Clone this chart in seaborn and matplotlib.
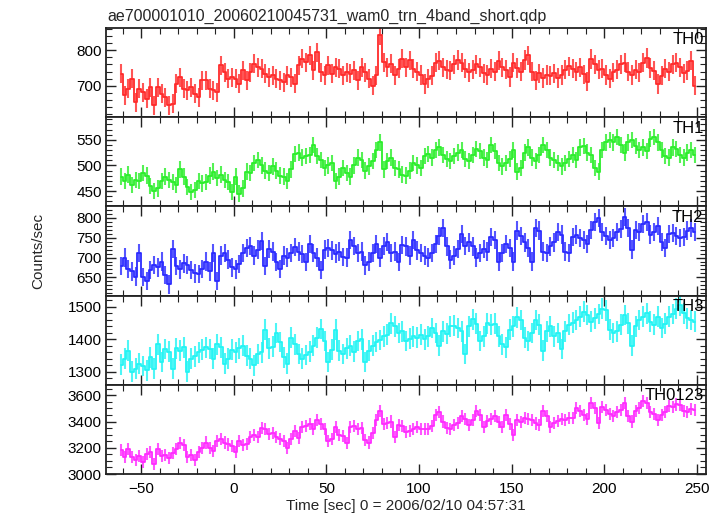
import numpy as np
import pandas as pd
import matplotlib
matplotlib.use("Agg")
import matplotlib.pyplot as plt
from matplotlib.ticker import MultipleLocator
import seaborn as sns

# ---------------- data (2 s bins) ----------------
TIME_START = -61
BIN_WIDTH = 2
N_BINS = 156
time = TIME_START + BIN_WIDTH * np.arange(N_BINS)

th0 = [734, 673, 692, 720, 654, 692, 682, 664, 696, 645, 696, 678, 668, 645, 650, 706,
       724, 692, 687, 696, 678, 668, 715, 715, 692, 687, 682, 757, 738, 720, 724, 720,
       706, 743, 715, 738, 762, 752, 748, 734, 724, 729, 720, 715, 710, 729, 724, 706,
       757, 776, 766, 785, 743, 794, 738, 729, 757, 734, 752, 748, 729, 738, 734, 743,
       715, 752, 738, 720, 700, 729, 841, 766, 752, 762, 729, 748, 776, 752, 771, 748,
       740, 730, 705, 720, 728, 765, 770, 752, 745, 742, 760, 772, 765, 748, 738, 745,
       760, 752, 735, 730, 748, 740, 770, 752, 745, 725, 765, 750, 740, 772, 785, 740,
       715, 735, 722, 730, 728, 735, 722, 730, 745, 755, 748, 740, 752, 732, 712, 775,
       760, 745, 748, 730, 720, 738, 745, 760, 765, 740, 730, 745, 738, 765, 778, 750,
       742, 705, 728, 748, 740, 760, 765, 752, 735, 742, 770, 700]

th1 = [478, 470, 482, 462, 472, 470, 485, 480, 460, 450, 455, 470, 478, 472, 468, 462,
       492, 478, 458, 448, 452, 470, 465, 468, 480, 488, 475, 482, 472, 468, 448, 478,
       445, 455, 488, 485, 505, 510, 500, 490, 485, 498, 490, 480, 478, 470, 492, 522,
       525, 515, 518, 520, 540, 518, 510, 495, 500, 505, 470, 478, 495, 485, 478, 500,
       515, 510, 490, 498, 508, 530, 545, 492, 508, 515, 495, 492, 482, 480, 490, 505,
       500, 495, 518, 522, 515, 530, 535, 520, 512, 508, 518, 525, 530, 512, 508, 520,
       532, 528, 515, 510, 540, 528, 505, 498, 505, 512, 530, 488, 495, 525, 535, 515,
       508, 520, 540, 530, 515, 510, 505, 498, 505, 512, 520, 510, 535, 538, 525, 520,
       495, 488, 530, 545, 550, 545, 555, 540, 525, 545, 550, 538, 530, 535, 528, 552,
       555, 545, 530, 518, 515, 535, 532, 520, 515, 525, 530, 520]

th2 = [678, 700, 672, 665, 652, 712, 650, 640, 668, 682, 675, 690, 655, 632, 722, 678,
       670, 685, 682, 668, 660, 658, 672, 690, 665, 712, 640, 705, 712, 695, 675, 670,
       683, 712, 725, 730, 705, 720, 742, 678, 722, 715, 688, 672, 705, 700, 712, 726,
       715, 708, 688, 735, 712, 700, 668, 720, 725, 718, 710, 715, 702, 700, 745, 730,
       712, 715, 680, 690, 712, 735, 700, 730, 740, 712, 715, 688, 732, 728, 705, 745,
       718, 712, 705, 700, 712, 735, 755, 775, 728, 695, 705, 722, 760, 730, 738, 728,
       700, 712, 722, 715, 752, 745, 690, 712, 735, 725, 690, 768, 755, 738, 725, 690,
       775, 768, 715, 712, 728, 738, 765, 758, 715, 712, 752, 758, 750, 745, 735, 770,
       790, 800, 765, 755, 745, 750, 765, 772, 802, 775, 720, 770, 765, 785, 790, 758,
       765, 780, 740, 725, 760, 762, 755, 750, 752, 768, 775, 765]

th3 = [1322, 1340, 1365, 1300, 1310, 1325, 1318, 1305, 1345, 1310, 1385, 1330, 1370, 1362, 1310, 1372,
       1365, 1375, 1300, 1340, 1348, 1360, 1368, 1375, 1370, 1340, 1385, 1375, 1325, 1340, 1368, 1360,
       1372, 1380, 1350, 1340, 1320, 1355, 1360, 1430, 1372, 1378, 1420, 1392, 1345, 1325, 1405, 1385,
       1355, 1340, 1352, 1362, 1380, 1405, 1432, 1395, 1330, 1368, 1430, 1365, 1355, 1372, 1380, 1362,
       1395, 1400, 1330, 1365, 1380, 1392, 1398, 1410, 1415, 1450, 1440, 1420, 1425, 1395, 1402, 1410,
       1405, 1415, 1400, 1410, 1435, 1420, 1380, 1425, 1418, 1440, 1442, 1435, 1425, 1355, 1440, 1462,
       1448, 1395, 1410, 1450, 1445, 1448, 1410, 1385, 1375, 1430, 1440, 1468, 1460, 1405, 1395, 1420,
       1460, 1445, 1365, 1425, 1440, 1410, 1420, 1370, 1425, 1445, 1452, 1460, 1470, 1485, 1475, 1455,
       1465, 1478, 1495, 1490, 1430, 1420, 1425, 1445, 1475, 1450, 1380, 1440, 1460, 1470, 1480, 1455,
       1445, 1470, 1435, 1448, 1470, 1478, 1495, 1505, 1480, 1465, 1460, 1455]

th0123 = [3180, 3130, 3190, 3130, 3110, 3140, 3090, 3150, 3165, 3075, 3190, 3140, 3145, 3125, 3160, 3190,
          3235, 3220, 3130, 3145, 3110, 3170, 3200, 3240, 3200, 3175, 3255, 3270, 3240, 3225, 3215, 3170,
          3255, 3220, 3230, 3285, 3300, 3285, 3350, 3340, 3305, 3310, 3285, 3270, 3250, 3200, 3265, 3330,
          3275, 3360, 3365, 3380, 3340, 3410, 3380, 3340, 3250, 3270, 3360, 3300, 3290, 3235, 3355, 3365,
          3345, 3350, 3260, 3240, 3310, 3410, 3480, 3380, 3390, 3400, 3280, 3370, 3365, 3320, 3330, 3345,
          3355, 3340, 3345, 3340, 3365, 3450, 3470, 3400, 3350, 3345, 3375, 3390, 3440, 3420, 3370, 3410,
          3480, 3450, 3360, 3405, 3420, 3440, 3395, 3360, 3450, 3380, 3300, 3410, 3395, 3430, 3420, 3410,
          3385, 3370, 3480, 3440, 3360, 3390, 3405, 3420, 3410, 3425, 3430, 3500, 3480, 3450, 3420, 3540,
          3500, 3390, 3510, 3490, 3460, 3445, 3470, 3490, 3540, 3440, 3400, 3480, 3500, 3555, 3540, 3470,
          3455, 3410, 3450, 3475, 3520, 3510, 3530, 3525, 3480, 3470, 3495, 3485]

band_names = ["TH0", "TH1", "TH2", "TH3", "TH0123"]
band_values = [th0, th1, th2, th3, th0123]
band_errors = [27, 16, 23, 32, 46]          # typical 1-sigma bar half length (counts/sec)
band_colors = ["#ff2a2a", "#2aee2a", "#2a2aff", "#22f4f4", "#ff2aff"]
band_ylims = [(612, 862), (420, 594), (604, 829), (1260, 1535), (3000, 3680)]
band_major = [100, 50, 50, 100, 200]
band_minor = [20, 10, 10, 20, 50]

title = "ae700001010_20060210045731_wam0_trn_4band_short.qdp"
xlabel = "Time [sec] 0 = 2006/02/10 04:57:31"
ylabel = "Counts/sec"

# ---------------- plotting ----------------
sns.set_theme(style="ticks")
plt.rcParams["font.family"] = ["Liberation Sans", "DejaVu Sans"]

W, H = 724, 516
fig = plt.figure(figsize=(W / 100, H / 100), dpi=100)

ax_left, ax_right = 106, 706
ax_top, ax_bottom = 28, 474
ph = (ax_bottom - ax_top) / 5.0

axes = []
for k, (name, vals, err, col, ylim, maj, mnr) in enumerate(
        zip(band_names, band_values, band_errors, band_colors, band_ylims, band_major, band_minor)):
    y0 = 1 - (ax_top + (k + 1) * ph) / H
    ax = fig.add_axes([ax_left / W, y0, (ax_right - ax_left) / W, ph / H])
    df = pd.DataFrame({"time": time, "rate": vals})
    sns.lineplot(data=df, x="time", y="rate", ax=ax, color=col, lw=1.3,
                 drawstyle="steps-mid", estimator=None, legend=False)
    ax.errorbar(df["time"], df["rate"], yerr=err, fmt="none", ecolor=col,
                elinewidth=1.5, alpha=0.8, capsize=0)
    ax.set_xlim(-69, 255)
    ax.set_ylim(*ylim)
    ax.xaxis.set_major_locator(MultipleLocator(50))
    ax.xaxis.set_minor_locator(MultipleLocator(10))
    ax.yaxis.set_major_locator(MultipleLocator(maj))
    ax.yaxis.set_minor_locator(MultipleLocator(mnr))
    ax.tick_params(which="both", direction="in", top=True, right=True,
                   colors="#222222", labelcolor="black", labelsize=11)
    ax.tick_params(which="major", length=7, width=1.0, pad=3)
    ax.tick_params(which="minor", length=4, width=0.8)
    ax.tick_params(axis="x", which="major", pad=6)
    for s in ax.spines.values():
        s.set_linewidth(1.3)
        s.set_color("#222222")
    ax.set_xlabel("")
    ax.set_ylabel("")
    if k < 4:
        ax.tick_params(axis="x", labelbottom=False)
    ax.text(0.996, 0.96, name, transform=ax.transAxes, ha="right", va="top",
            fontsize=12, color="black")
    axes.append(ax)

axes[-1].set_xlabel(xlabel, fontsize=11, labelpad=2)
fig.text(107 / W, 1 - 20.5 / H, title, ha="left", va="baseline", fontsize=11.5)
fig.text(38 / W, 1 - 251 / H, ylabel, rotation=90, ha="center", va="center", fontsize=11)

fig.savefig("out.png", dpi=100)
